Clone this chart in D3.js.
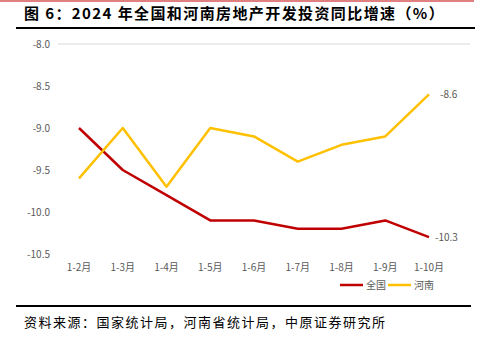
<!DOCTYPE html>
<html>
<head>
<meta charset="utf-8">
<script src="https://cdn.jsdelivr.net/npm/d3@7"></script>
<style>
  body { margin: 0; background: #fff; }
  svg { display: block; }
</style>
</head>
<body>
<div id="chart"></div>
<script>
const months = ['1-2月', '1-3月', '1-4月', '1-5月', '1-6月', '1-7月', '1-8月', '1-9月', '1-10月'];
const national = [-9.0, -9.5, -9.8, -10.1, -10.1, -10.2, -10.2, -10.1, -10.3];
const henan = [-9.6, -9.0, -9.7, -9.0, -9.1, -9.4, -9.2, -9.1, -8.6];
const yTicks = [-8.0, -8.5, -9.0, -9.5, -10.0, -10.5];
const seriesNames = ['全国', '河南'];

const W = 478, H = 351;
const svg = d3.select('#chart').append('svg').attr('width', W).attr('height', H);
const cjk = '"Noto Sans CJK SC", "Noto Sans", sans-serif';

// header rules and title
svg.append('line').attr('x1', 0).attr('x2', 474).attr('y1', 1).attr('y2', 1)
    .attr('stroke', '#c00000').attr('stroke-width', 1);
svg.append('text').attr('x', 24).attr('y', 19)
    .attr('font-family', cjk).attr('font-size', 15).attr('font-weight', 'bold')
    .attr('letter-spacing', 1.4)
    .attr('fill', '#000').text('图 6：2024 年全国和河南房地产开发投资同比增速（%）');
svg.append('line').attr('x1', 16).attr('x2', 475).attr('y1', 28).attr('y2', 28)
    .attr('stroke', '#000').attr('stroke-width', 2);

const x = d3.scalePoint().domain(months).range([79, 429]);
const y = d3.scaleLinear().domain([-10.5, -8.0]).range([254, 44]);

// top axis line at -8.0
svg.append('line').attr('x1', 58).attr('x2', 470).attr('y1', y(-8.0)).attr('y2', y(-8.0))
    .attr('stroke', '#d9d9d9').attr('stroke-width', 1);

svg.append('g').selectAll('text').data(yTicks).join('text')
    .attr('x', 50).attr('y', d => y(d) + 4)
    .attr('text-anchor', 'end')
    .attr('font-family', cjk).attr('font-size', 10).attr('fill', '#595959')
    .text(d => d.toFixed(1));

svg.append('g').selectAll('text').data(months).join('text')
    .attr('x', d => x(d)).attr('y', 271)
    .attr('text-anchor', 'middle')
    .attr('font-family', cjk).attr('font-size', 10).attr('fill', '#595959')
    .text(d => d);

const line = d3.line().x((d, i) => x(months[i])).y(d => y(d));
const colors = ['#c00000', '#ffc000'];
[national, henan].forEach((s, k) => {
    svg.append('path').datum(s).attr('d', line)
        .attr('fill', 'none').attr('stroke', colors[k]).attr('stroke-width', 2.5)
        .attr('stroke-linejoin', 'round');
});

// end labels
const last = months.length - 1;
svg.append('text').attr('x', x(months[last]) + 6).attr('y', y(national[last]) + 4)
    .attr('font-family', cjk).attr('font-size', 10).attr('fill', '#595959')
    .text(national[last].toFixed(1));
svg.append('text').attr('x', x(months[last]) + 11).attr('y', y(henan[last]) + 4)
    .attr('font-family', cjk).attr('font-size', 10).attr('fill', '#595959')
    .text(henan[last].toFixed(1));

// legend
const lg = svg.append('g');
seriesNames.forEach((n, k) => {
    const lx = 340 + k * 48;
    lg.append('line').attr('x1', lx).attr('x2', lx + 23).attr('y1', 285).attr('y2', 285)
        .attr('stroke', colors[k]).attr('stroke-width', 2.5);
    lg.append('text').attr('x', lx + 26).attr('y', 289)
        .attr('font-family', cjk).attr('font-size', 10).attr('fill', '#595959').text(n);
});

// footer
svg.append('line').attr('x1', 16).attr('x2', 471).attr('y1', 306).attr('y2', 306)
    .attr('stroke', '#000').attr('stroke-width', 2);
svg.append('text').attr('x', 24).attr('y', 327)
    .attr('font-family', cjk).attr('font-size', 13).attr('fill', '#000')
    .attr('letter-spacing', 1.5)
    .text('资料来源：国家统计局，河南省统计局，中原证券研究所');
</script>
</body>
</html>
